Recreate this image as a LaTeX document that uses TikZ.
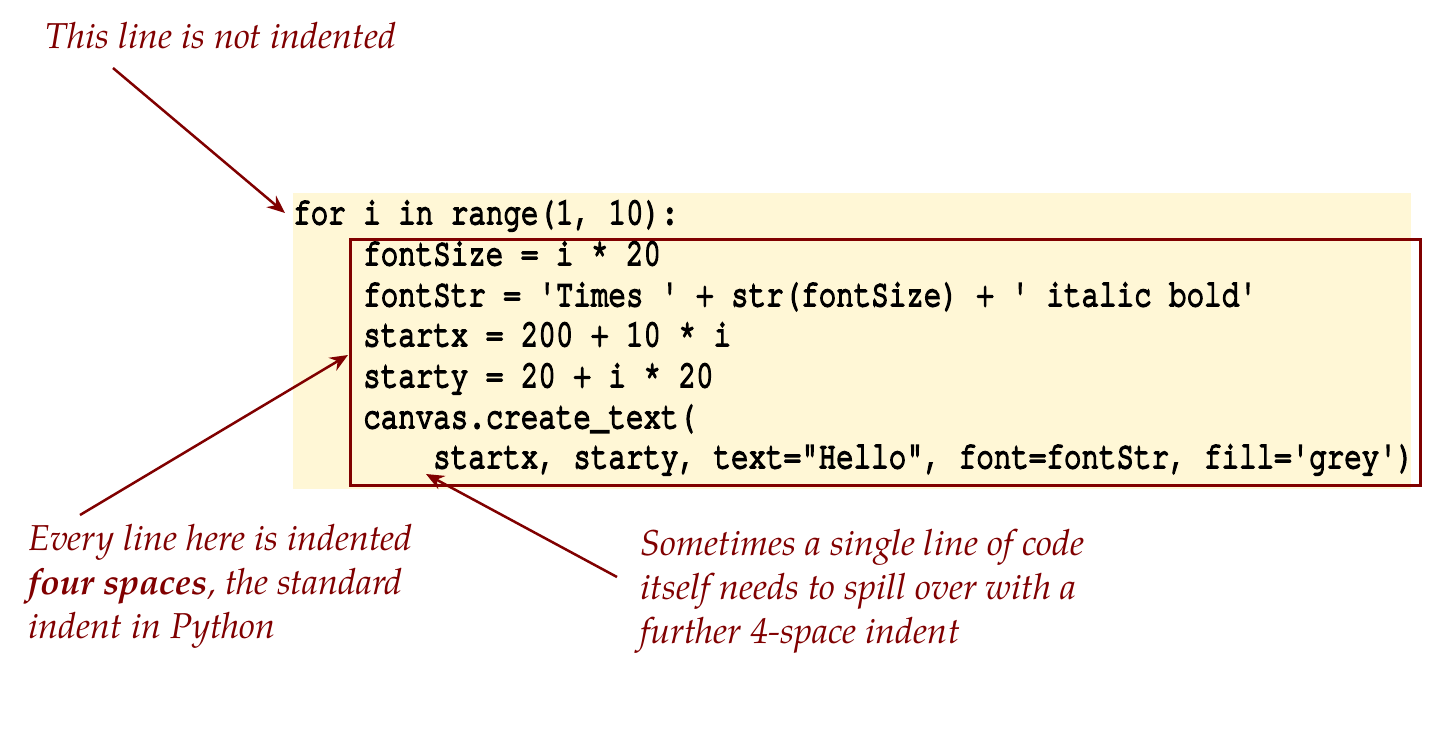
\documentclass[tikz,border=0pt]{standalone}
\usepackage{fontspec}
\usepackage{graphicx}
\newfontfamily\codefam[FakeBold=5,Ligatures={NoCommon}]{TeX Gyre Cursor}
\newfontfamily\annfam{TeX Gyre Pagella}
\usetikzlibrary{arrows.meta}
\definecolor{annred}{RGB}{128,0,0}
\definecolor{codebg}{RGB}{255,247,214}
\newcommand\annfont{\annfam\itshape\fontsize{36}{44}\selectfont}
\newcommand\annbold[1]{{\bfseries #1}}
\newcommand\cl[1]{\scalebox{1}[1.3]{#1}}
\tikzset{
  codeline/.style={font=\codefam\fontsize{29.2}{40.7}\selectfont, anchor=base west, inner sep=0pt, text=black},
  anntext/.style={font=\annfont, text=annred, inner sep=0pt, align=left},
  annarrow/.style={draw=annred, line width=2.5pt, -{Stealth[length=18pt,width=15pt,inset=6pt]}},
  bgbox/.style={fill=codebg, draw=none, anchor=north west, inner sep=0pt, outer sep=0pt},
  redbox/.style={draw=annred, line width=2.5pt, anchor=north west, inner sep=0pt, outer sep=0pt}
}
\begin{document}
\begin{tikzpicture}[x=1pt,y=-1pt]
\useasboundingbox (0,0) rectangle (1438,745);
\node[bgbox, minimum width=1118pt, minimum height=296pt] (bg) at (293,193) {};
\node[redbox, minimum width=1070pt, minimum height=246pt] (box) at (350.7,239.3) {};
\node[codeline] (l1) at (293,224) {\cl{for i in range(1, 10):}};
\node[codeline] (l2) at (363,265) {\cl{fontSize = i * 20}};
\node[codeline] (l3) at (363,306) {\cl{fontStr = 'Times ' + str(fontSize) + ' italic bold'}};
\node[codeline] (l4) at (363,346) {\cl{startx = 200 + 10 * i}};
\node[codeline] (l5) at (363,387) {\cl{starty = 20 + i * 20}};
\node[codeline] (l6) at (363,428) {\cl{canvas.create\_text(}};
\node[codeline] (l7) at (433,468) {\cl{startx, starty, text="Hello", font=fontStr, fill='grey')}};
\node[anntext, anchor=base west] (t1) at (45,48) {This line is not indented};
\node[anntext, anchor=north west] (t2) at (28,523.5) {Every line here is indented\\\annbold{four spaces}, the standard\\indent in Python};
\node[anntext, anchor=north west] (t3) at (640,528.5) {Sometimes a single line of code\\itself needs to spill over with a\\further 4-space indent};
\coordinate (s1) at (113,68);
\coordinate (e1) at (285,213);
\coordinate (s2) at (80,515);
\coordinate (e2) at (348,355);
\coordinate (s3) at (617,577);
\coordinate (e3) at (426,474);
\draw[annarrow] (s1) -- (e1);
\draw[annarrow] (s2) -- (e2);
\draw[annarrow] (s3) -- (e3);
\end{tikzpicture}
\end{document}
